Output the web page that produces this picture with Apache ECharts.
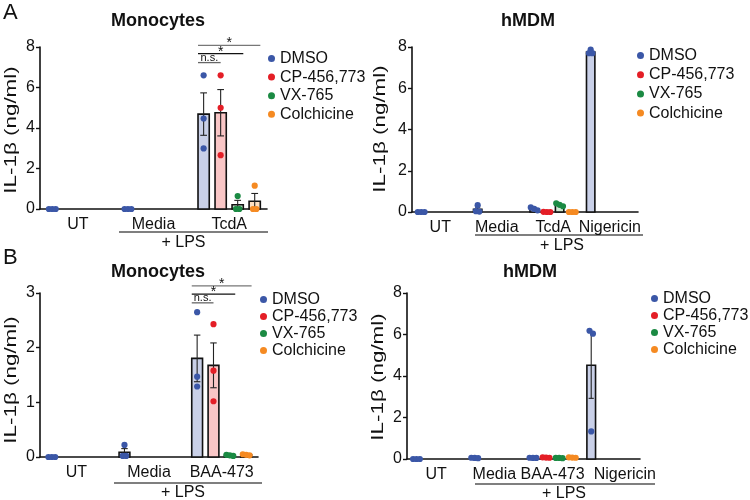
<!DOCTYPE html>
<html>
<head>
<meta charset="utf-8">
<script src="https://cdn.jsdelivr.net/npm/echarts@6/dist/echarts.min.js"></script>
<style>
  html, body { margin: 0; padding: 0; background: #fff; }
  #main { width: 750px; height: 500px; }
</style>
</head>
<body>
<div id="main"></div>
<script>
// treatments + colours
const treatments = ['DMSO', 'CP-456,773', 'VX-765', 'Colchicine'];
const dotColors = ['#3b57a7', '#e41e26', '#1b8a43', '#f58a22'];
const barColors = ['#c9d0e8', '#f9c6c6', '#cfe8d2', '#fde0c2'];

// A - Monocytes (TcdA)
const monoA_groups = ['UT', 'Media', 'TcdA'];
const monoA_DMSO = [[0, 0, 0], [0, 0, 0], [6.6, 4.47, 2.99]];
const monoA_CP = [null, null, [6.6, 5.0, 2.66]];
const monoA_VX = [null, null, [0.64, 0, 0]];
const monoA_Colch = [null, null, [1.15, 0, 0]];

// A - hMDM (TcdA)
const mdmA_groups = ['UT', 'Media', 'TcdA', 'Nigericin'];
const mdmA_DMSO = [[0, 0, 0], [0.33, 0.04, 0.02], [0.22, 0.15, 0.08], [7.88, 7.7, 7.7]];
const mdmA_CP = [null, null, [0.01, 0, 0], null];
const mdmA_VX = [null, null, [0.42, 0.35, 0.28], null];
const mdmA_Colch = [null, null, [0, 0, 0], null];

// B - Monocytes (BAA-473)
const monoB_groups = ['UT', 'Media', 'BAA-473'];
const monoB_DMSO = [[0, 0, 0], [0.22, 0.02, 0.02], [2.65, 1.47, 1.29]];
const monoB_CP = [null, null, [2.43, 1.58, 1.02]];
const monoB_VX = [null, null, [0.03, 0.02, 0.04]];
const monoB_Colch = [null, null, [0.05, 0.04, 0.03]];

// B - hMDM (BAA-473)
const mdmB_groups = ['UT', 'Media', 'BAA-473', 'Nigericin'];
const mdmB_DMSO = [[0, 0, 0], [0.06, 0.05, 0.04], [0.06, 0.05, 0.05], [6.18, 6.04, 1.33]];
const mdmB_CP = [null, null, [0.08, 0.07, 0.06], null];
const mdmB_VX = [null, null, [0.05, 0.05, 0.04], null];
const mdmB_Colch = [null, null, [0.08, 0.07, 0.06], null];

// significance bars: [end slot, y value, label, colour]
const sigA = [[3.33, 8.08, '*', '#777'], [2.33, 7.67, '*', '#111'], [1.0, 7.23, 'n.s.', '#666']];
const sigB = [[3.33, 3.13, '*', '#777'], [2.33, 2.98, '*', '#111'], [1.0, 2.82, 'n.s.', '#666']];

const FONT = "'Liberation Sans', Arial, Helvetica, sans-serif";
const SLOT = 0.225;   // slot width as part of the category band
const BAR = 0.66;     // bar width as part of a slot
const Y_NAME = 'IL-1β (ng/ml)';

const panels = [
  { groups: monoA_groups, sets: [monoA_DMSO, monoA_CP, monoA_VX, monoA_Colch], yMax: 8, yStep: 2,
    grid: { left: 40, top: 47, width: 227, height: 162 }, legend: { left: 268, top: 50, gap: 1.6 },
    yName: [12, 130] },
  { groups: mdmA_groups, sets: [mdmA_DMSO, mdmA_CP, mdmA_VX, mdmA_Colch], yMax: 8, yStep: 2,
    grid: { left: 412, top: 47, width: 226, height: 165 }, legend: { left: 637, top: 47, gap: 2.2 },
    yName: [381, 129] },
  { groups: monoB_groups, sets: [monoB_DMSO, monoB_CP, monoB_VX, monoB_Colch], yMax: 3, yStep: 1,
    grid: { left: 40, top: 293, width: 218, height: 164 }, legend: { left: 260, top: 291, gap: 0 },
    yName: [12, 380] },
  { groups: mdmB_groups, sets: [mdmB_DMSO, mdmB_CP, mdmB_VX, mdmB_Colch], yMax: 8, yStep: 2,
    grid: { left: 407, top: 293, width: 233, height: 166 }, legend: { left: 651, top: 290, gap: 0 },
    yName: [379, 377] }
];

function meanSem(v) {
  const n = v.length;
  const m = v.reduce((a, b) => a + b, 0) / n;
  const sd = Math.sqrt(v.reduce((a, b) => a + (b - m) * (b - m), 0) / (n - 1));
  return [m, sd / Math.sqrt(n)];
}

function makeRender(t) {
  return function (params, api) {
    const gi = api.value(0);
    const mean = api.value(1);
    const sem = api.value(2);
    const base = api.coord([gi, 0]);
    const band = api.size([1, 0])[0];
    const slot = band * SLOT;
    const cx = base[0] + (t - 1.5) * slot;
    const bw = slot * BAR;
    const yM = api.coord([gi, mean])[1];
    const kids = [];
    if (base[1] - yM > 0.6) {
      kids.push({ type: 'rect', shape: { x: cx - bw / 2, y: yM, width: bw, height: base[1] - yM },
        style: { fill: barColors[t], stroke: '#111', lineWidth: 1.6 } });
    }
    const semPx = base[1] - api.coord([gi, sem])[1];
    if (semPx > 1.5) {
      const cap = bw * 0.3;
      const st = { stroke: '#222', lineWidth: 1.1 };
      kids.push({ type: 'line', shape: { x1: cx, y1: yM - semPx, x2: cx, y2: yM + semPx }, style: st });
      kids.push({ type: 'line', shape: { x1: cx - cap, y1: yM - semPx, x2: cx + cap, y2: yM - semPx }, style: st });
      kids.push({ type: 'line', shape: { x1: cx - cap, y1: yM + semPx, x2: cx + cap, y2: yM + semPx }, style: st });
    }
    // replicate dots, spread sideways when they overlap
    const ys = [api.value(3), api.value(4), api.value(5)].map(v => api.coord([gi, v])[1]).sort((a, b) => a - b);
    const clusters = [];
    ys.forEach(y => {
      const last = clusters[clusters.length - 1];
      if (last && y - last[last.length - 1] < 3.0) last.push(y); else clusters.push([y]);
    });
    clusters.forEach(c => {
      c.forEach((y, k) => {
        const dx = (k - (c.length - 1) / 2) * 3.4;
        kids.push({ type: 'circle', shape: { cx: cx + dx, cy: y, r: 3.1 }, style: { fill: dotColors[t] } });
      });
    });
    return { type: 'group', children: kids };
  };
}

const grids = [], xAxes = [], yAxes = [], series = [], legends = [];
panels.forEach((p, pi) => {
  grids.push(Object.assign({ containLabel: false }, p.grid));
  // in the lower hMDM panel "Nigericin" sits a little right of its tick
  const cats = p.groups.map(g => (pi === 3 && g === 'Nigericin')
    ? { value: g, textStyle: { padding: [0, 0, 0, 28] } } : g);
  xAxes.push({
    type: 'category', gridIndex: pi, data: cats, boundaryGap: true,
    axisLine: { lineStyle: { color: '#111', width: 1.6 } },
    axisTick: { alignWithLabel: true, length: 5, lineStyle: { color: '#111', width: 1.4 } },
    axisLabel: { color: '#111', fontSize: 16, fontFamily: FONT, margin: 8, interval: 0 },
    splitLine: { show: false }
  });
  yAxes.push({
    type: 'value', gridIndex: pi, min: 0, max: p.yMax, interval: p.yStep,
    axisLine: { show: true, lineStyle: { color: '#111', width: 1.6 } },
    axisTick: { show: true, length: 4, lineStyle: { color: '#111', width: 1.4 } },
    axisLabel: { color: '#111', fontSize: 16, fontFamily: FONT, margin: 5 },
    splitLine: { show: false }
  });
  p.sets.forEach((set, t) => {
    const data = [];
    set.forEach((vals, gi) => {
      if (!vals) return;
      const ms = meanSem(vals);
      data.push([gi, ms[0], ms[1], vals[0], vals[1], vals[2]]);
    });
    series.push({
      type: 'custom', name: treatments[t], xAxisIndex: pi, yAxisIndex: pi,
      itemStyle: { color: dotColors[t] }, renderItem: makeRender(t), data: data,
      encode: { x: 0, y: 1 }, z: 2 + t
    });
  });
  legends.push({
    orient: 'vertical', left: p.legend.left, top: p.legend.top, padding: 0,
    itemGap: p.legend.gap, itemWidth: 7, itemHeight: 7, selectedMode: false,
    textStyle: { fontSize: 16, color: '#111', fontFamily: FONT, lineHeight: 17 },
    data: treatments.map((n, i) => ({ name: n, icon: 'circle', itemStyle: { color: dotColors[i] } }))
  });
});

const chart = echarts.init(document.getElementById('main'));
chart.setOption({
  animation: false,
  backgroundColor: '#fff',
  grid: grids, xAxis: xAxes, yAxis: yAxes, legend: legends, series: series
});

// texts, "+ LPS" brackets and significance bars
const graphic = [];
function txt(text, x, y, size, weight, align) {
  graphic.push({ type: 'text', x: x, y: y, silent: true,
    style: { text: text, fontSize: size, fontWeight: weight || 'normal', fontFamily: FONT, fill: '#111',
      align: align || 'center', verticalAlign: 'middle' } });
}
function hline(x1, x2, y, color, w) {
  graphic.push({ type: 'line', silent: true, shape: { x1: x1, y1: y, x2: x2, y2: y },
    style: { stroke: color, lineWidth: w || 1.3 } });
}
txt('A', 3, 13, 22, 'normal', 'left');
txt('B', 3, 258, 22, 'normal', 'left');
txt('Monocytes', 158, 21, 18, 'bold');
txt('hMDM', 528, 21, 18, 'bold');
txt('Monocytes', 158, 272, 18, 'bold');
txt('hMDM', 530, 272, 18, 'bold');

// y axis titles, drawn stretched along their length as in the figure
panels.forEach(p => {
  graphic.push({ type: 'text', x: p.yName[0], y: p.yName[1], rotation: Math.PI / 2, scaleX: 1.4, silent: true,
    style: { text: Y_NAME, fontSize: 16, fontFamily: FONT, fill: '#111', align: 'center', verticalAlign: 'middle' } });
});

hline(119, 268, 232, '#555');  txt('+ LPS', 183.5, 242.5, 16);
hline(475, 643, 235, '#555');  txt('+ LPS', 562, 246, 16);
hline(114, 262, 483, '#555');  txt('+ LPS', 183, 493, 16);
hline(475, 655, 484, '#555');  txt('+ LPS', 564, 494, 16);

function sigBars(gridIndex, sig) {
  const c0 = chart.convertToPixel({ gridIndex: gridIndex }, [2, 0]);
  const c1 = chart.convertToPixel({ gridIndex: gridIndex }, [1, 0]);
  const slot = (c0[0] - c1[0]) * SLOT;
  const xs = s => c0[0] + (s - 1.5) * slot;
  const x0 = xs(-BAR / 2);
  sig.forEach(s => {
    const y = chart.convertToPixel({ gridIndex: gridIndex }, [2, s[1]])[1];
    const x1 = xs(s[0]);
    hline(x0, x1, y, s[3], 1.3);
    if (s[2] === 'n.s.') {
      txt('n.s.', (x0 + x1) / 2, y - 5, 11);
    } else {
      txt('*', (x0 + x1) / 2, y - 2, 14);
    }
  });
}
sigBars(0, sigA);
sigBars(2, sigB);

chart.setOption({ graphic: graphic });
</script>
</body>
</html>
